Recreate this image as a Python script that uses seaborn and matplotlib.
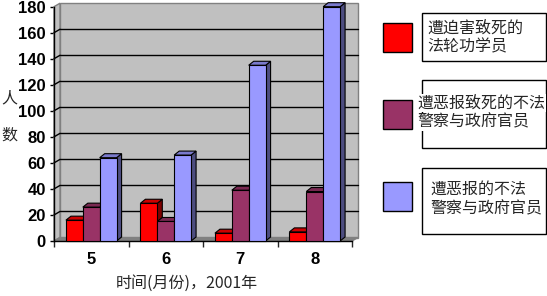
import numpy as np
import pandas as pd
import matplotlib
matplotlib.use("Agg")
import matplotlib.pyplot as plt
import seaborn as sns
from matplotlib.patches import Polygon, Rectangle
import matplotlib.colors as mcolors

# ---------------- data ----------------
months = ["5", "6", "7", "8"]
series = ["遭迫害致死的\n法轮功学员",
          "遭恶报致死的不法\n警察与政府官员",
          "遭恶报的不法\n警察与政府官员"]
killed_practitioners = [16, 29, 6, 7]
dead_officials = [26, 15, 39, 38]
punished_officials = [64, 66, 135, 180]
colors = ["#FF0000", "#993366", "#9999FF"]
y_ticks = [0, 20, 40, 60, 80, 100, 120, 140, 160, 180]
x_label = "时间(月份)，2001年"
y_label = ["人", "数"]

df = pd.DataFrame({
    "month": months * 3,
    "series": np.repeat(series, len(months)),
    "value": killed_practitioners + dead_officials + punished_officials,
})

# ---------------- figure ----------------
sns.set_theme(style="white")
plt.rcParams["font.family"] = ["Liberation Sans", "DejaVu Sans"]
CJK = ["Noto Sans CJK SC", "DejaVu Sans"]

W, H = 547, 296
fig = plt.figure(figsize=(W / 100, H / 100), dpi=100)
fig.patch.set_facecolor("white")

ax_l, ax_r, ax_b, ax_t = 54, 352, 241, 6.7
ax = fig.add_axes([ax_l / W, 1 - ax_b / H, (ax_r - ax_l) / W, (ax_b - ax_t) / H])
ax.set_facecolor("none")

sns.barplot(data=df, x="month", y="value", hue="series", order=months,
            hue_order=series, palette=colors, width=0.68, gap=0,
            edgecolor="black", linewidth=0.8, saturation=1, legend=False,
            ax=ax)
ax.set_xlim(-0.5, len(months) - 0.5)
ax.set_ylim(y_ticks[0], y_ticks[-1])

ax_w_px = ax_r - ax_l
ax_h_px = ax_b - ax_t

# ---- 3D walls (axes fraction) ----
ox, oy = 6 / ax_w_px, 3.5 / ax_h_px
wall = "#C0C0C0"
ax.add_patch(Rectangle((ox, oy), 1, 1, transform=ax.transAxes, fc=wall,
                       ec="#808080", lw=1, clip_on=False, zorder=0.5))
ax.add_patch(Polygon([(0, 0), (ox, oy), (ox, 1 + oy), (0, 1)], closed=True,
                     transform=ax.transAxes, fc=wall, ec="#808080", lw=1,
                     clip_on=False, zorder=0.6))
ax.add_patch(Polygon([(0, 0), (1, 0), (1 + ox, oy), (ox, oy)], closed=True,
                     transform=ax.transAxes, fc="#808080", ec="#808080", lw=1,
                     clip_on=False, zorder=0.7))
span = y_ticks[-1] - y_ticks[0]
for t in y_ticks[1:-1]:
    f = (t - y_ticks[0]) / span
    ax.plot([ox, 1 + ox], [f + oy, f + oy], transform=ax.transAxes,
            color="black", lw=1, clip_on=False, zorder=1)
    ax.plot([0, ox], [f, f + oy], transform=ax.transAxes,
            color="black", lw=1, clip_on=False, zorder=1)

# ---- 3D bar faces ----
xr = ax.get_xlim()
dx = 5 * (xr[1] - xr[0]) / ax_w_px
dy = 4 * span / ax_h_px
bars = [p for p in list(ax.patches)
        if isinstance(p, Rectangle) and p.get_width() < 1 and p.get_height() > 0]
for p in bars:
    x, w, h = p.get_x(), p.get_width(), p.get_height()
    c = np.array(mcolors.to_rgb(p.get_facecolor()))
    z = 3 + (x + 1) * 0.1
    p.set_zorder(z)
    p.set_clip_on(False)
    side = Polygon([(x + w, 0), (x + w + dx, dy), (x + w + dx, h + dy), (x + w, h)],
                   closed=True, fc=c * 0.5, ec="black", lw=0.8, zorder=z - 0.01,
                   clip_on=False)
    top = Polygon([(x, h), (x + w, h), (x + w + dx, h + dy), (x + dx, h + dy)],
                  closed=True, fc=c * 0.8, ec="black", lw=0.8, zorder=z - 0.01,
                  clip_on=False)
    ax.add_patch(side)
    ax.add_patch(top)

# ---- axes styling ----
for s in ["top", "right"]:
    ax.spines[s].set_visible(False)
for s in ["left", "bottom"]:
    ax.spines[s].set_color("black")
    ax.spines[s].set_linewidth(1)
    ax.spines[s].set_zorder(2)
ax.set_yticks(y_ticks)
ax.set_yticklabels([str(t) for t in y_ticks], fontsize=12, fontweight="bold")
ax.tick_params(axis="y", direction="out", length=3, width=1, pad=3, colors="black", left=True)
ax.set_xticks(range(len(months)))
ax.set_xticklabels(months, fontsize=12, fontweight="bold")
ax.set_xticks(np.arange(-0.5, len(months), 1.0), minor=True)
ax.tick_params(axis="x", which="major", length=0, pad=8, colors="black")
ax.tick_params(axis="x", which="minor", direction="out", length=4, width=1, bottom=True)
ax.set_xlabel("")
ax.set_ylabel("")
ax.grid(False)

fig.text(187 / W, 1 - 283 / H, x_label, ha="center", va="center",
         fontsize=11.5, family=CJK)
fig.text(9 / W, 1 - 98 / H, y_label[0], ha="center", va="center",
         fontsize=11.5, family=CJK)
fig.text(9 / W, 1 - 135 / H, y_label[1], ha="center", va="center",
         fontsize=11.5, family=CJK)

# ---- legend ----
sq_x, sq_size = 383, 29
sq_tops = [23, 100, 182]
boxes = [(422, 13, 546, 61), (422, 80, 546, 148), (422, 168, 546, 234)]
text_x = [427, 417, 430]
text_cy = [37.5, 112.5, 199]
for i, (name, col) in enumerate(zip(series, colors)):
    fig.patches.append(Rectangle((sq_x / W, 1 - (sq_tops[i] + sq_size) / H),
                                 sq_size / W, sq_size / H, transform=fig.transFigure,
                                 fc=col, ec="black", lw=1, figure=fig))
    bx0, by0, bx1, by1 = boxes[i]
    fig.patches.append(Rectangle((bx0 / W, 1 - by1 / H), (bx1 - bx0) / W,
                                 (by1 - by0) / H, transform=fig.transFigure,
                                 fc="white", ec="black", lw=1, figure=fig))
    lines = name.split("\n")
    for j, ln in enumerate(lines):
        cy = text_cy[i] + (j - (len(lines) - 1) / 2) * 19
        fig.text(text_x[i] / W, 1 - cy / H, ln, ha="left", va="center",
                 fontsize=11.5, family=CJK,
                 bbox=dict(fc="white", ec="none", pad=0.5) if i == 1 else None)

fig.savefig("out.png", dpi=100, facecolor="white")
